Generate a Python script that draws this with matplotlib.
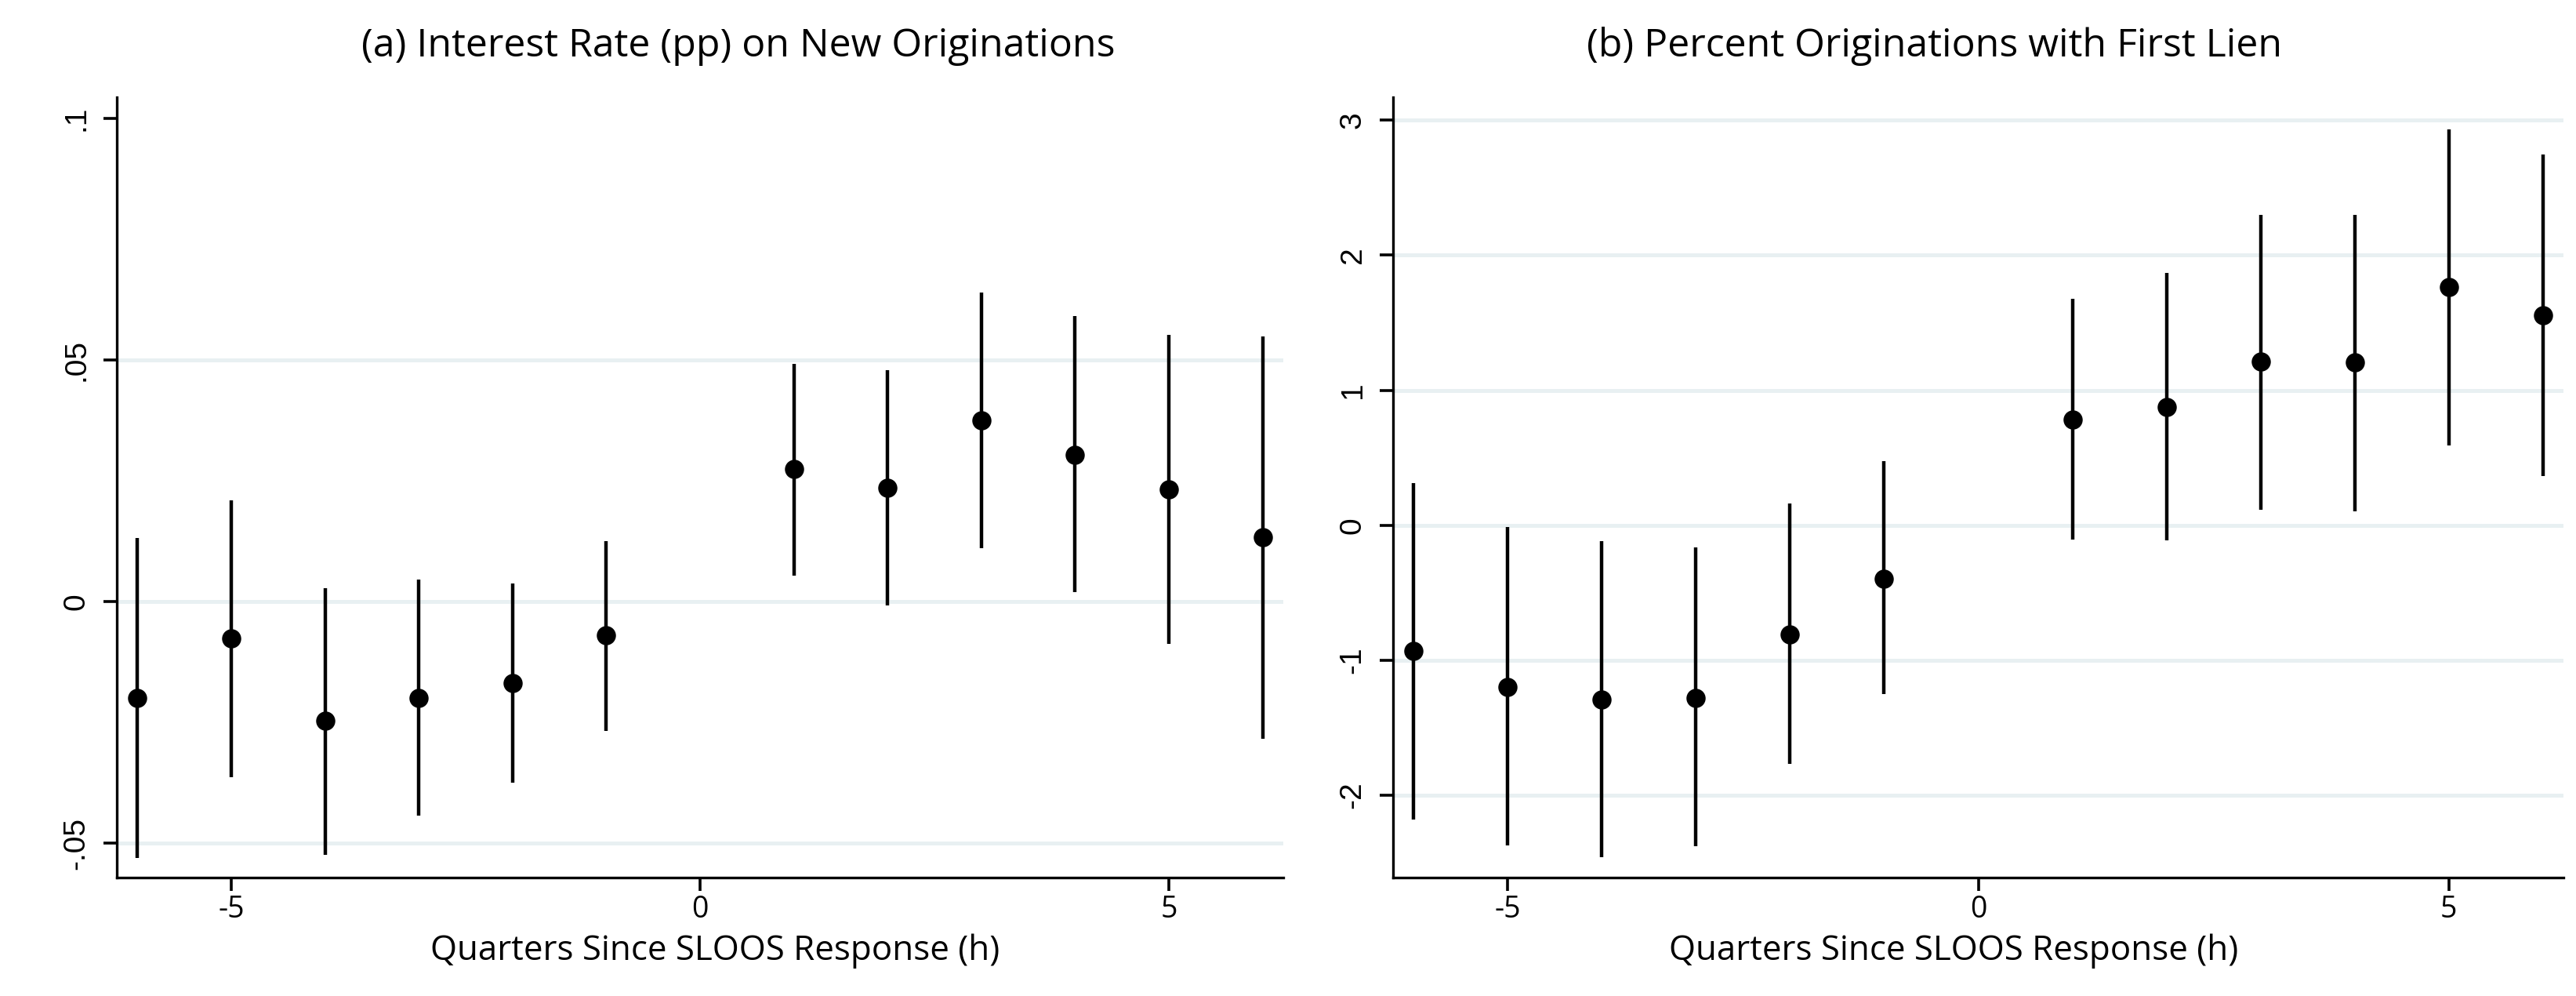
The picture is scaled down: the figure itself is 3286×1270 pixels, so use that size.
import numpy as np
import matplotlib
matplotlib.use("Agg")
import matplotlib.pyplot as plt
from matplotlib import font_manager

# ============================================================
# DATA
# ============================================================

horizons = [-6, -5, -4, -3, -2, -1, 1, 2, 3, 4, 5, 6]

# (a) interest rate on new originations, pp
rate_coef = [-0.0199, -0.0076, -0.0247, -0.0199, -0.0168, -0.0070,
             0.0274, 0.0236, 0.0375, 0.0304, 0.0232, 0.0133]
rate_hi = [0.0132, 0.0209, 0.0028, 0.0046, 0.0037, 0.0126,
           0.0492, 0.0479, 0.0640, 0.0591, 0.0553, 0.0549]
rate_lo = [-0.0530, -0.0364, -0.0524, -0.0443, -0.0374, -0.0267,
           0.0054, -0.0007, 0.0110, 0.0020, -0.0088, -0.0284]

# (b) percent originations with first lien
lien_coef = [-0.933, -1.196, -1.290, -1.280, -0.807, -0.394,
             0.783, 0.877, 1.215, 1.205, 1.764, 1.557]
lien_hi = [0.310, -0.014, -0.117, -0.164, 0.160, 0.474,
           1.675, 1.867, 2.300, 2.300, 2.930, 2.744]
lien_lo = [-2.180, -2.370, -2.460, -2.380, -1.770, -1.250,
           -0.108, -0.113, 0.117, 0.103, 0.590, 0.366]

rate_yticks = [-0.05, 0, 0.05, 0.1]
rate_ylabels = ["-.05", "0", ".05", ".1"]
lien_yticks = [-2, -1, 0, 1, 2, 3]
lien_ylabels = ["-2", "-1", "0", "1", "2", "3"]
xticks = [-5, 0, 5]

titles = ["(a) Interest Rate (pp) on New Originations",
          "(b) Percent Originations with First Lien"]
xlabel = "Quarters Since SLOOS Response (h)"

# ============================================================
# FONTS
# ============================================================

available = {f.name for f in font_manager.fontManager.ttflist}
narrow = "DejaVu Sans"
for name in ["Liberation Sans Narrow", "DejaVu Sans Condensed", "Open Sans", "Lato"]:
    if name in available:
        narrow = name
        break

plt.rcParams["font.family"] = [narrow, "DejaVu Sans"]

W, H = 3286, 1270
DPI = 200

fig = plt.figure(figsize=(W / DPI, H / DPI), dpi=DPI)
fig.patch.set_facecolor("white")

grid_color = "#e8f0f2"


def panel(rect, coef, lo, hi, ylim, yticks, ylabels, grids):
    ax = fig.add_axes(rect)
    for g in grids:
        ax.axhline(g, color=grid_color, linewidth=1.8, zorder=0)
    ax.vlines(horizons, lo, hi, color="black", linewidth=1.6, zorder=2)
    ax.plot(horizons, coef, "o", color="black", markersize=7.8, zorder=3)
    ax.set_xlim(-6.22, 6.22)
    ax.set_ylim(*ylim)
    ax.set_xticks(xticks)
    ax.set_xticklabels([str(t) for t in xticks], fontsize=13.5)
    ax.set_yticks(yticks)
    ax.set_yticklabels(ylabels, rotation=90, va="center",
                       family="Liberation Sans", fontsize=14)
    ax.tick_params(axis="both", length=6, width=1.3, color="black")
    ax.tick_params(axis="x", pad=2)
    ax.tick_params(axis="y", pad=6)
    for side in ["top", "right"]:
        ax.spines[side].set_visible(False)
    for side in ["left", "bottom"]:
        ax.spines[side].set_linewidth(1.2)
    return ax


ax1 = panel([149 / W, 1 - 1119 / H, (1637 - 149) / W, (1119 - 124) / H],
            rate_coef, rate_lo, rate_hi, (-0.0571, 0.1044),
            rate_yticks, rate_ylabels, [-0.05, 0, 0.05])

ax2 = panel([1777 / W, 1 - 1119 / H, (3270 - 1777) / W, (1119 - 124) / H],
            lien_coef, lien_lo, lien_hi, (-2.61, 3.17),
            lien_yticks, lien_ylabels, [-2, -1, 0, 1, 2, 3])

# titles and axis titles
fig.text(942 / W, 1 - 72 / H, titles[0], ha="center", va="baseline", fontsize=18)
fig.text(2468 / W, 1 - 72 / H, titles[1], ha="center", va="baseline", fontsize=18)

fig.text(912 / W, 1 - 1224 / H, xlabel, ha="center", va="baseline", fontsize=15.8)
fig.text(2492 / W, 1 - 1224 / H, xlabel, ha="center", va="baseline", fontsize=15.8)

fig.savefig("out.png", dpi=DPI, facecolor="white")
